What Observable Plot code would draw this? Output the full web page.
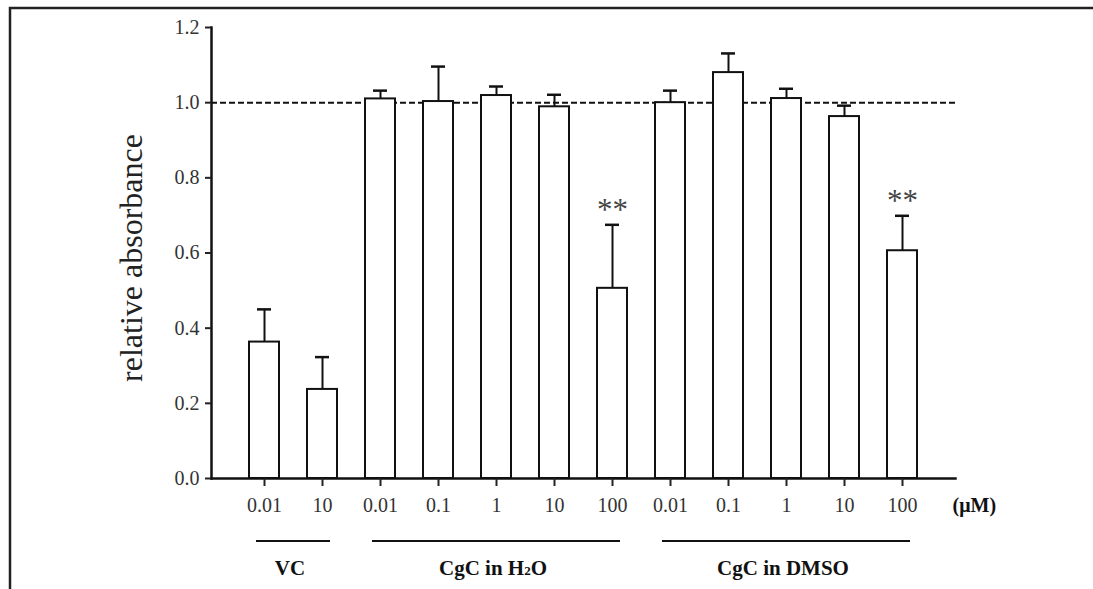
<!DOCTYPE html>
<html><head><meta charset="utf-8">
<script src="https://cdn.jsdelivr.net/npm/d3@7"></script>
<script src="https://cdn.jsdelivr.net/npm/@observablehq/plot@0.6"></script>
<style>html,body{margin:0;padding:0;background:#fff}svg{display:block}</style>
</head><body><div id="chart"></div>
<script>
const groups = ["VC","VC","CgC in H2O","CgC in H2O","CgC in H2O","CgC in H2O","CgC in H2O","CgC in DMSO","CgC in DMSO","CgC in DMSO","CgC in DMSO","CgC in DMSO"];
const doses = ["0.01","10","0.01","0.1","1","10","100","0.01","0.1","1","10","100"];
const means = [0.363,0.237,1.010,1.003,1.019,0.989,0.506,1.000,1.080,1.011,0.963,0.606];
const errors = [0.087,0.086,0.022,0.093,0.024,0.032,0.169,0.032,0.051,0.026,0.029,0.093];
const stars = ["","","","","","","**","","","","","**"];
const groupNames = ["VC","CgC in H2O","CgC in DMSO"];
const yTicks = [0,0.2,0.4,0.6,0.8,1.0,1.2];
const reference = 1.0;
const unitLabel = "(μM)";
const yLabel = "relative absorbance";

const rows = doses.map((d,i)=>({id: groups[i]+"|"+d, group: groups[i], dose: d, mean: means[i], top: means[i]+errors[i], star: stars[i]}));
const serif = "'Liberation Serif', 'DejaVu Serif', serif";

const plot = Plot.plot({
  width: 1093, height: 589,
  marginLeft: 211, marginRight: 138, marginTop: 27, marginBottom: 111,
  style: {fontFamily: serif, background: "white", overflow: "visible"},
  x: {domain: rows.map(d=>d.id), paddingInner: 0.49, paddingOuter: 0.6, label: null},
  y: {domain: [0, 1.2], label: null},
  marks: [
    Plot.ruleY([reference], {stroke: "#111", strokeWidth: 2, strokeDasharray: "6,3"}),
    Plot.ruleX(rows, {x: "id", y1: "mean", y2: "top", stroke: "#111", strokeWidth: 2}),
    Plot.tickY(rows, {x: "id", y: "top", insetLeft: 8, insetRight: 8, stroke: "#111", strokeWidth: 2.5}),
    Plot.barY(rows, {x: "id", y: "mean", fill: "white", stroke: "#111", strokeWidth: 2}),
    Plot.text(rows.filter(d=>d.star), {x: "id", y: "top", text: "star", dy: -15, fontSize: 31, fill: "#444"}),
    Plot.frame({anchor: "left", stroke: "#111", strokeWidth: 2.5}),
    Plot.frame({anchor: "bottom", stroke: "#111", strokeWidth: 2.5}),
    Plot.axisY({ticks: yTicks, tickSize: 6, tickPadding: 6, tickFormat: d3.format(".1f"), fontSize: 20, color: "#222", strokeWidth: 2, label: null}),
    Plot.axisX({tickSize: 8, tickPadding: 11, tickFormat: id => id.split("|")[1], fontSize: 20, color: "#222", strokeWidth: 2, label: null}),
    Plot.text([yLabel], {frameAnchor: "left", textAnchor: "middle", dx: -80, dy: 5, rotate: -90, fontSize: 32, fill: "#222"}),
    Plot.text([unitLabel], {frameAnchor: "bottom-right", textAnchor: "start", dx: -3, dy: 33, fontSize: 20, fontWeight: "bold", fill: "#111"})
  ]
});

const svg = d3.select(plot);
svg.insert("rect", ":first-child").attr("x", 10).attr("y", 8).attr("width", 1200).attr("height", 700)
  .attr("fill", "none").attr("stroke", "#222").attr("stroke-width", 2.5);
svg.selectAll("[aria-label='y-axis tick label'], [aria-label='x-axis tick label']").attr("fill", "#333");

const xs = plot.scale("x");
groupNames.forEach(g => {
  const ids = rows.filter(r => r.group === g).map(r => r.id);
  const x1 = xs.apply(ids[0]) + xs.bandwidth/2 - 8;
  const x2 = xs.apply(ids[ids.length-1]) + xs.bandwidth/2 + 8;
  svg.append("line").attr("x1", x1).attr("x2", x2).attr("y1", 541).attr("y2", 541)
    .attr("stroke", "#111").attr("stroke-width", 2);
  const t = svg.append("text").attr("x", (x1+x2)/2 - 3).attr("y", 575).attr("text-anchor", "middle")
    .attr("font-family", serif).attr("font-weight", "bold").attr("font-size", 21).attr("fill", "#111");
  const parts = g.split(/(\d)/);
  parts.forEach(p => {
    if (/^\d$/.test(p)) {
      t.append("tspan").attr("font-size", 13).text(p);
    } else if (p) {
      t.append("tspan").text(p);
    }
  });
});

document.getElementById("chart").appendChild(plot);
</script>
</body></html>
